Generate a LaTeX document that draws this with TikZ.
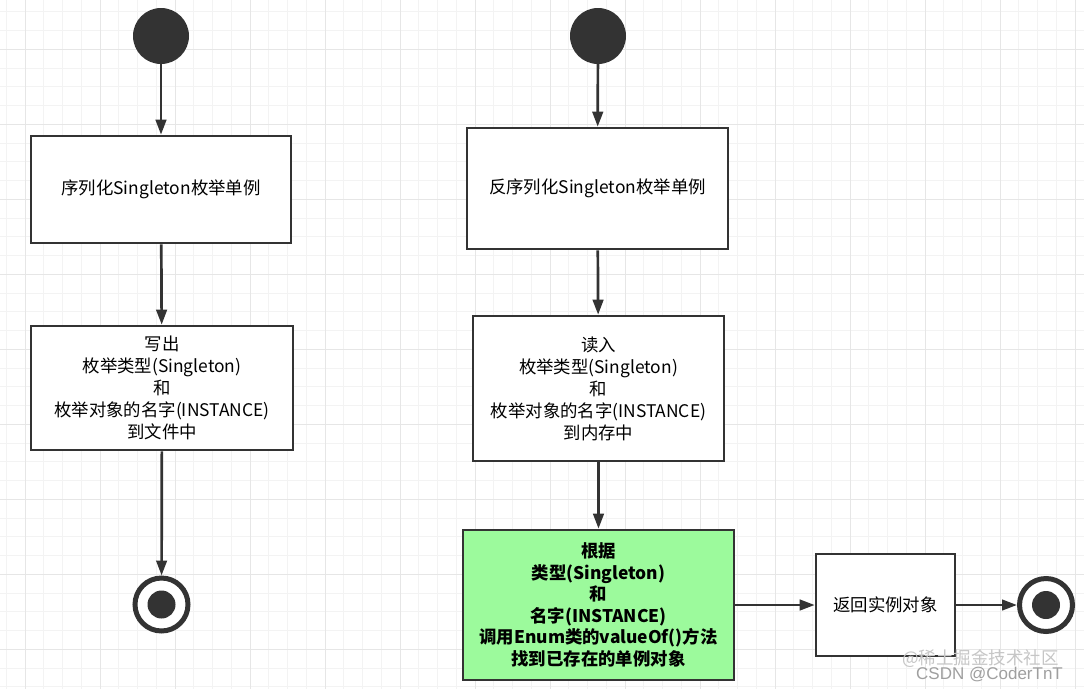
\documentclass[tikz,border=0pt]{standalone}
\usepackage{fontspec}
\setmainfont{Noto Sans CJK SC}
\newfontfamily\wmlatin{Liberation Sans}
\usetikzlibrary{arrows.meta}
\definecolor{ink}{HTML}{333333}
\definecolor{gfill}{HTML}{9CFA9C}
\definecolor{gridminor}{HTML}{F3F3F3}
\definecolor{gridmajor}{HTML}{E6E6E6}
\begin{document}
\begin{tikzpicture}[x=1pt,y=-1pt,
  box/.style={draw=ink, line width=2.6pt, fill=white, align=center, inner sep=0pt,
    font=\fontsize{17.4}{22}\selectfont},
  startdot/.style={circle, fill=ink, minimum size=56pt, inner sep=0pt},
  enddot/.style={circle, draw=ink, line width=5pt, fill=white, minimum size=53pt, inner sep=0pt,
    path picture={\fill[ink] (path picture bounding box.center) circle (14pt);}},
  flow/.style={draw=ink, line width=2.7pt, -{Triangle[length=15pt,width=10.5pt]}},
  wm/.style={text=gray!45, font=\fontsize{17.5}{17.5}\selectfont, inner sep=0pt}
]
\useasboundingbox (0,0) rectangle (1084,689);
\fill[white] (0,0) rectangle (1084,689);
% grid
\foreach \k in {-1,...,56} {
  \draw[gridminor, line width=1pt] ({25+\k*18.75},0) -- ({25+\k*18.75},689);
}
\foreach \k in {-2,...,34} {
  \draw[gridminor, line width=1pt] (0,{49.3+\k*18.75}) -- (1084,{49.3+\k*18.75});
}
\foreach \k in {0,...,14} {
  \draw[gridmajor, line width=1pt] ({25+\k*75},0) -- ({25+\k*75},689);
}
\foreach \k in {0,...,8} {
  \draw[gridmajor, line width=1pt] (0,{49.3+\k*75}) -- (1084,{49.3+\k*75});
}

% left column
\node[startdot] (s1) at (161,36) {};
\node[box, minimum width=260pt, minimum height=107pt] (b1) at (161,189.5) {序列化Singleton枚举单例};
\node[box, minimum width=262pt, minimum height=124pt] (b2) at (162,388)
  {写出\\枚举类型(Singleton)\\和\\枚举对象的名字(INSTANCE)\\到文件中};
\node[enddot] (e1) at (161.5,604.5) {};

% right column
\node[startdot] (s2) at (598,36) {};
\node[box, minimum width=261pt, minimum height=121pt] (b3) at (597.5,188.5) {反序列化Singleton枚举单例};
\node[box, minimum width=251pt, minimum height=145pt] (b4) at (598.5,388.5)
  {读入\\枚举类型(Singleton)\\和\\枚举对象的名字(INSTANCE)\\到内存中};
\node[box, fill=gfill, minimum width=271pt, minimum height=150pt,
  font=\fontsize{17.4}{21.5}\selectfont\bfseries] (g) at (598.5,605)
  {根据\\类型(Singleton)\\和\\名字(INSTANCE)\\调用Enum类的valueOf()方法\\找到已存在的单例对象};
\node[box, minimum width=139pt, minimum height=102pt] (b5) at (885.5,605) {返回实例对象};
\node[enddot] (e2) at (1046,605) {};

% connectors
\draw[flow] (s1) -- (b1);
\draw[flow] (b1) -- (b2);
\draw[flow] (b2) -- (e1);
\draw[flow] (s2) -- (b3);
\draw[flow] (b3) -- (b4);
\draw[flow] (b4) -- (g);
\draw[flow] (g) -- (b5);
\draw[flow] (b5) -- (e2);

% watermark
\node[wm, anchor=west] (w1) at (902,659) {@稀土掘金技术社区};
\node[wm, anchor=west, text=gray!75, font=\fontsize{17}{17}\wmlatin] (w2) at (916,675) {CSDN @CoderTnT};
\end{tikzpicture}
\end{document}
